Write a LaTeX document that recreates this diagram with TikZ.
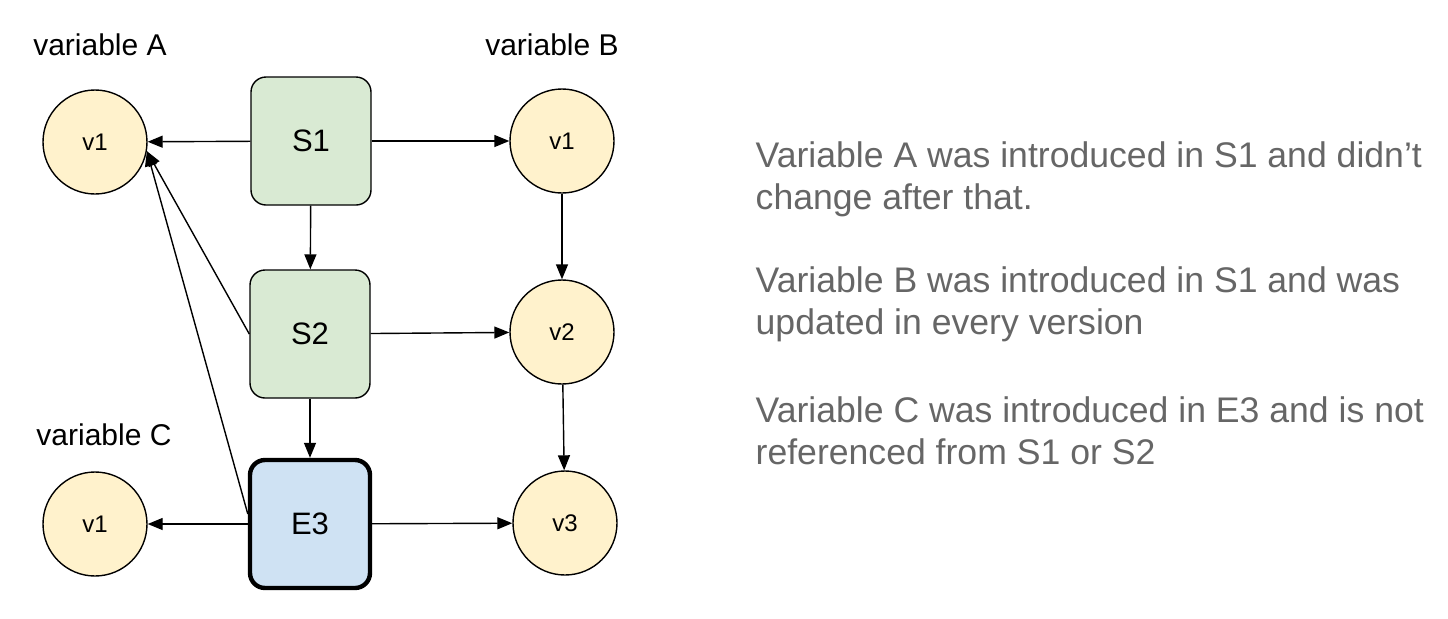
\documentclass[tikz,border=0pt]{standalone}
\usepackage{fontspec}
\setmainfont{Liberation Sans}
\usetikzlibrary{arrows.meta, positioning}

\definecolor{varfill}{HTML}{FFF2CC}
\definecolor{stepfill}{HTML}{D9EAD3}
\definecolor{envfill}{HTML}{CFE2F3}
\definecolor{notegray}{HTML}{666666}

\begin{document}
\begin{tikzpicture}[
        ->,
        >={Triangle[length=7.5pt, width=6pt]},
        x=0.5pt,
        y=-0.5pt,
        line width=0.7pt,
        every node/.style={font=\fontsize{12}{14}\selectfont},
        var/.style={circle, draw, fill=varfill, minimum size=52pt, inner sep=0pt},
        stepbox/.style={draw, rounded corners=7.5pt, fill=stepfill, minimum width=60pt, minimum height=64pt,
            font=\fontsize{15.5}{18}\selectfont},
        label/.style={font=\fontsize{15}{18}\selectfont},
        note/.style={font=\fontsize{17.8}{21}\selectfont, text=notegray, align=left, anchor=west, inner sep=0pt}
    ]
    \useasboundingbox (0,0) rectangle (1448,618);

    % variables
    \node[label] (labA) at (100,45) {variable A};
    \node[label] (labB) at (552,45) {variable B};
    \node[label] (labC) at (104,435) {variable C};

    \node[var] (a1) at (95,142) {v1};
    \node[var] (c1) at (95,524) {v1};
    \node[var] (b1) at (562,141) {v1};
    \node[var] (b2) at (562,332) {v2};
    \node[var] (b3) at (565,523) {v3};

    % versions
    \node[stepbox] (s1) at (311,141) {S1};
    \node[stepbox] (s2) at (310,334) {S2};
    \node[stepbox, fill=envfill, line width=2.2pt] (e3) at (310,524) {E3};

    \draw (s1) -- (a1);
    \draw (s1) -- (b1);
    \draw (s1) -- (s2);
    \draw (s2.west) -- (a1.-10);
    \draw (s2) -- (b2);
    \draw (s2) -- (e3);
    \draw ([yshift=5pt]e3.west) -- (a1.-10);
    \draw (e3) -- (c1);
    \draw (e3) -- (b3);
    \draw (b1) -- (b2);
    \draw (b2) -- (b3);

    % notes
    \node[note] (n1) at (755,179) {Variable A was introduced in S1 and didn’t\\change after that.};
    \node[note] (n2) at (755,304) {Variable B was introduced in S1 and was\\updated in every version};
    \node[note] (n3) at (755,431) {Variable C was introduced in E3 and is not\\referenced from S1 or S2};
\end{tikzpicture}
\end{document}
